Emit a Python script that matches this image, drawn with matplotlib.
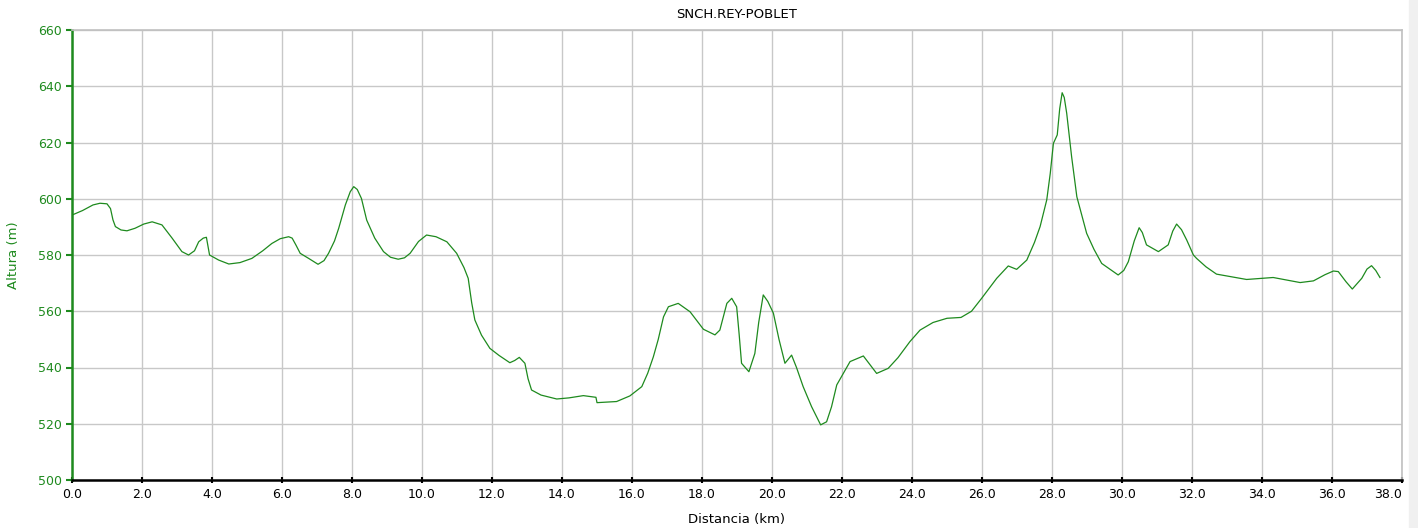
import numpy as np
import matplotlib.pyplot as plt
from matplotlib.patches import Rectangle

# Profile (km, m)
dist = [0.0, 0.3, 0.6, 0.8, 1.0, 1.1, 1.17, 1.24, 1.4, 1.57, 1.8, 2.05, 2.29, 2.57,
        2.86, 3.14, 3.33, 3.5, 3.62, 3.75, 3.84, 3.93, 4.19, 4.48, 4.8, 5.14, 5.45,
        5.71, 5.95, 6.19, 6.29, 6.4, 6.52, 6.76, 7.03, 7.2, 7.33, 7.5, 7.62, 7.81,
        7.95, 8.05, 8.15, 8.27, 8.42, 8.65, 8.9, 9.1, 9.32, 9.5, 9.66, 9.9, 10.13,
        10.4, 10.71, 10.99, 11.2, 11.32, 11.42, 11.51, 11.7, 11.94, 12.2, 12.51,
        12.65, 12.78, 12.94, 13.03, 13.13, 13.4, 13.85, 14.2, 14.61, 14.97, 15.0,
        15.56, 15.94, 16.28, 16.45, 16.61, 16.75, 16.9, 17.04, 17.32, 17.66, 18.04,
        18.37, 18.51, 18.71, 18.85, 18.99, 19.06, 19.13, 19.34, 19.51, 19.62, 19.75,
        19.88, 20.04, 20.2, 20.37, 20.56, 20.7, 20.89, 21.13, 21.39, 21.56, 21.7,
        21.85, 22.23, 22.61, 22.8, 22.99, 23.32, 23.6, 23.94, 24.23, 24.6, 25.0,
        25.4, 25.7, 25.99, 26.42, 26.75, 26.99, 27.28, 27.5, 27.66, 27.85, 27.95,
        28.04, 28.15, 28.22, 28.29, 28.35, 28.42, 28.56, 28.71, 28.99, 29.2, 29.42,
        29.89, 30.05, 30.18, 30.35, 30.49, 30.58, 30.7, 31.04, 31.32, 31.45, 31.56,
        31.7, 31.85, 32.04, 32.13, 32.4, 32.7, 33.56, 34.32, 35.09, 35.47, 35.8,
        36.04, 36.18, 36.4, 36.58, 36.85, 37.0, 37.13, 37.25, 37.37]
alt = [594.2, 595.8, 597.8, 598.4, 598.2, 596.5, 592.5, 590.1, 588.9, 588.6, 589.5,
       591.0, 591.8, 590.7, 586.0, 581.2, 580.0, 581.5, 584.7, 586.0, 586.3, 580.0,
       578.2, 576.8, 577.3, 578.8, 581.5, 584.1, 585.8, 586.5, 586.0, 583.5, 580.6,
       578.8, 576.7, 578.0, 580.6, 585.0, 589.5, 597.8, 602.5, 604.3, 603.3, 600.1,
       592.4, 586.0, 581.2, 579.2, 578.5, 579.0, 580.6, 584.8, 587.1, 586.5, 584.7,
       580.6, 575.5, 571.7, 563.0, 556.9, 551.5, 546.8, 544.3, 541.7, 542.5, 543.6,
       541.5, 536.0, 532.0, 530.2, 528.8, 529.2, 530.0, 529.4, 527.5, 527.9, 529.9,
       533.2, 538.0, 543.8, 550.0, 558.0, 561.6, 562.8, 559.8, 553.6, 551.6, 553.3,
       562.8, 564.6, 561.6, 552.0, 541.5, 538.5, 545.0, 556.0, 565.8, 563.5, 559.3,
       550.0, 541.5, 544.4, 540.0, 533.2, 526.1, 519.6, 520.7, 526.0, 533.8, 542.1,
       544.1, 541.0, 537.9, 539.7, 543.5, 549.2, 553.3, 556.0, 557.5, 557.8, 560.0,
       564.6, 571.7, 576.1, 574.9, 578.2, 584.5, 590.1, 599.6, 609.0, 619.7, 622.7,
       632.0, 637.7, 636.0, 630.4, 615.0, 600.7, 587.7, 582.0, 577.0, 572.9, 574.5,
       577.6, 585.0, 589.7, 588.0, 583.6, 581.2, 583.6, 588.5, 591.0, 589.0, 585.3,
       580.0, 578.8, 575.8, 573.2, 571.3, 572.0, 570.2, 570.8, 573.0, 574.3, 574.1,
       570.5, 567.9, 571.7, 575.0, 576.2, 574.5, 572.0]

x_ticks = np.arange(0, 39, 2)
y_ticks = np.arange(500, 661, 20)

green = "#1e8a1e"

fig = plt.figure(figsize=(14.18, 5.28), dpi=100)
ax = fig.add_axes([72 / 1418, 1 - 480 / 528, (1402 - 72) / 1418, 450 / 528])

# scrollbar strip on the right edge
fig.patches.append(Rectangle((1409 / 1418, 0), 9 / 1418, 1, transform=fig.transFigure,
                             color="#f0f0f0", zorder=0))

ax.plot(dist, alt, color=green, linewidth=0.9)

ax.set_xlim(0, 38)
ax.set_ylim(500, 660)
ax.set_xticks(x_ticks)
ax.set_xticklabels([f"{v:.1f}" for v in x_ticks])
ax.get_xticklabels()[-1].set_horizontalalignment("right")
ax.set_yticks(y_ticks)
ax.grid(True, color="#c8c8c8", linewidth=1)
ax.set_axisbelow(True)

for s in ["top", "right"]:
    ax.spines[s].set_color("#c0c0c0")
    ax.spines[s].set_linewidth(1.2)
ax.spines["left"].set_color(green)
ax.spines["left"].set_linewidth(1.8)
ax.spines["bottom"].set_color("black")
ax.spines["bottom"].set_linewidth(1.8)

ax.tick_params(axis="y", colors=green, labelsize=9, length=4, width=1.5, pad=3)
ax.tick_params(axis="x", colors="black", labelsize=9, length=5, width=1.5,
               direction="inout", pad=3)

ax.set_title("SNCH.REY-POBLET", fontsize=9.5, pad=9)
ax.set_xlabel("Distancia (km)", fontsize=9.5, labelpad=9)
ax.set_ylabel("Altura (m)", fontsize=9.5, color=green, labelpad=13)

fig.savefig("out.png", dpi=100)
